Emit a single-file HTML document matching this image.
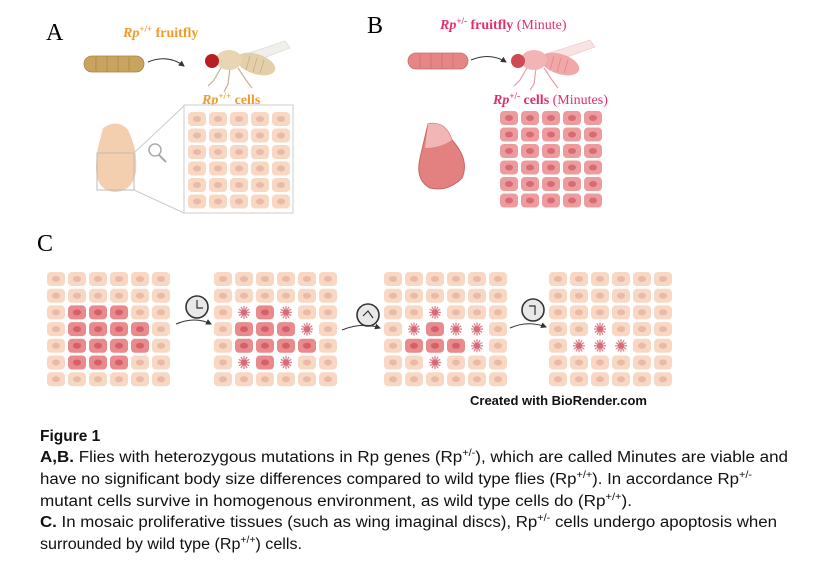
<!DOCTYPE html>
<html><head><meta charset="utf-8"><style>
html,body{margin:0;padding:0;background:#fff;}
svg{display:block;}
.cap{font-family:"Liberation Sans",sans-serif;font-size:15.5px;fill:#111;}
</style></head><body>
<svg id="s" width="827" height="564" viewBox="0 0 827 564" xmlns="http://www.w3.org/2000/svg">
<defs>
<marker id="ah" markerWidth="6" markerHeight="6" refX="5" refY="3" orient="auto"><path d="M0,0 L6,3 L0,6 z" fill="#333"/></marker>
</defs>
<text x="46" y="40" font-family="Liberation Serif,serif" font-size="24">A</text>
<text x="367" y="33" font-family="Liberation Serif,serif" font-size="24">B</text>
<text x="37" y="251" font-family="Liberation Serif,serif" font-size="24">C</text>

<!-- Panel A -->
<text x="123" y="37" font-family="Liberation Serif,serif" font-size="14" font-weight="bold" fill="#ef9a2a"><tspan font-style="italic">Rp</tspan><tspan font-size="9" dy="-5">+/+</tspan><tspan dy="5"> fruitfly</tspan></text>
<rect x="84" y="56" width="60" height="16" rx="8" fill="#c9a461" stroke="#a88440" stroke-width="0.8"/>
<g stroke="#a88440" stroke-width="0.7"><path d="M96,57v14M107,56v16M118,56v16M129,57v14"/></g>
<path d="M148,62 Q168,54 184,66" fill="none" stroke="#333" stroke-width="1" marker-end="url(#ah)"/>
<path d="M240,56 L285,41 L290,48 L248,64 Z" fill="#f1efec" stroke="#d8d4cc" stroke-width="0.6"/>
<g stroke="#c9b28f" stroke-width="1.2" fill="none"><path d="M222,66 L214,80 L208,86 M230,68 L228,84 L224,92 M238,68 L246,80 L252,88"/></g>
<ellipse cx="256" cy="64" rx="20" ry="10" fill="#e4cfab" transform="rotate(18 256 64)"/>
<g stroke="#c9ad82" stroke-width="0.8"><path d="M250,56 l-4,14 M257,58 l-4,14 M264,60 l-4,13"/></g>
<ellipse cx="229" cy="60" rx="13" ry="10" fill="#e8d5b3"/>
<circle cx="212" cy="61" r="7" fill="#b81f25"/>
<text x="202" y="104" font-family="Liberation Serif,serif" font-size="14" font-weight="bold" fill="#ef9a2a"><tspan font-style="italic">Rp</tspan><tspan font-size="9" dy="-5">+/+</tspan><tspan dy="5"> cells</tspan></text>
<path d="M103,128 Q118,118 128,130 Q138,150 136,172 Q132,192 114,192 Q97,190 96,170 Q96,152 100,140 Z" fill="#f3cfb0"/>
<rect x="97" y="153" width="37" height="37" fill="none" stroke="#bbb" stroke-width="1"/>
<path d="M134,153 L184,106 M134,190 L184,213" stroke="#ccc" stroke-width="1"/>
<circle cx="155" cy="150" r="6" fill="none" stroke="#aaa" stroke-width="1.5"/>
<path d="M159,155 L166,162" stroke="#aaa" stroke-width="2"/>
<rect x="184" y="105" width="109" height="108" fill="#fff" stroke="#ccc" stroke-width="1"/>
<g id="gA"></g>

<!-- Panel B -->
<text x="440" y="29" font-family="Liberation Serif,serif" font-size="14" fill="#e0306a"><tspan font-weight="bold" font-style="italic">Rp</tspan><tspan font-weight="bold" font-size="9" dy="-5">+/-</tspan><tspan dy="5" font-weight="bold"> fruitfly</tspan> (Minute)</text>
<rect x="408" y="53" width="60" height="16" rx="8" fill="#e58585" stroke="#d06a6a" stroke-width="0.8"/>
<g stroke="#d06a6a" stroke-width="0.7"><path d="M420,54v14M431,53v16M442,53v16M453,54v14"/></g>
<path d="M471,60 Q490,52 506,62" fill="none" stroke="#333" stroke-width="1" marker-end="url(#ah)"/>
<path d="M546,54 L590,40 L595,47 L553,62 Z" fill="#f8e2e2" stroke="#eec0c0" stroke-width="0.6"/>
<g stroke="#e8a0a0" stroke-width="1.2" fill="none"><path d="M528,66 L520,80 L514,86 M536,68 L534,84 L530,90 M544,68 L552,80 L558,88"/></g>
<ellipse cx="560" cy="64" rx="20" ry="10" fill="#f0a8a8" transform="rotate(18 560 64)"/>
<g stroke="#e08888" stroke-width="0.8"><path d="M554,56 l-4,14 M561,58 l-4,14 M568,60 l-4,13"/></g>
<ellipse cx="534" cy="60" rx="13" ry="10" fill="#f2b4b4"/>
<circle cx="518" cy="61" r="7" fill="#d04a55"/>
<text x="493" y="104" font-family="Liberation Serif,serif" font-size="14" fill="#e0306a"><tspan font-weight="bold" font-style="italic">Rp</tspan><tspan font-weight="bold" font-size="9" dy="-5">+/-</tspan><tspan dy="5" font-weight="bold"> cells</tspan> (Minutes)</text>
<path d="M428,124 Q445,120 452,140 Q470,160 462,178 Q448,192 430,188 Q415,180 420,158 Z" fill="#e38080" stroke="#c86565" stroke-width="1"/>
<path d="M428,124 Q445,120 452,140 Q440,148 425,148 Z" fill="#f2b6b6"/>
<g id="gB"></g>

<!-- Panel C -->
<g id="gC"></g>
<g fill="#e8e8e8" stroke="#333" stroke-width="1.6">
<circle cx="197" cy="307" r="11"/><circle cx="368" cy="315" r="11"/><circle cx="533" cy="310" r="11"/>
</g>
<g stroke="#333" stroke-width="1.2" fill="none">
<path d="M197,300 L197,308 L203,308"/><path d="M363,316 L368,311 L373,318"/><path d="M529,306 L535,306 L535,315"/>
</g>
<g fill="none" stroke="#333" stroke-width="1">
<path d="M176,324 Q195,316 211,324" marker-end="url(#ah)"/>
<path d="M342,330 Q362,322 380,328" marker-end="url(#ah)"/>
<path d="M510,328 Q528,320 546,327" marker-end="url(#ah)"/>
</g>
<text x="470" y="405" font-family="Liberation Sans,sans-serif" font-size="13" font-weight="bold" fill="#111">Created with BioRender.com</text>

<text class="cap" x="40" y="441" font-weight="bold" font-size="16.5">Figure 1</text>
<text class="cap" x="40" y="462" textLength="748" lengthAdjust="spacingAndGlyphs"><tspan font-weight="bold">A,B.</tspan> Flies with heterozygous mutations in Rp genes (Rp<tspan font-size="10" dy="-6">+/-</tspan><tspan dy="6">), which are called Minutes are viable and</tspan></text>
<text class="cap" x="40" y="484" textLength="712" lengthAdjust="spacingAndGlyphs">have no significant body size differences compared to wild type flies (Rp<tspan font-size="10" dy="-6">+/+</tspan><tspan dy="6">). In accordance Rp</tspan><tspan font-size="10" dy="-6">+/-</tspan></text>
<text class="cap" x="40" y="506" textLength="592" lengthAdjust="spacingAndGlyphs">mutant cells survive in homogenous environment, as wild type cells do (Rp<tspan font-size="10" dy="-6">+/+</tspan><tspan dy="6">).</tspan></text>
<text class="cap" x="40" y="527" textLength="737" lengthAdjust="spacingAndGlyphs"><tspan font-weight="bold">C.</tspan> In mosaic proliferative tissues (such as wing imaginal discs), Rp<tspan font-size="10" dy="-6">+/-</tspan><tspan dy="6"> cells undergo apoptosis when</tspan></text>
<text class="cap" x="40" y="549" textLength="262" lengthAdjust="spacingAndGlyphs">surrounded by wild type (Rp<tspan font-size="10" dy="-6">+/+</tspan><tspan dy="6">) cells.</tspan></text>
</svg>
<script>
var NS="http://www.w3.org/2000/svg";
function el(p,t,a){var e=document.createElementNS(NS,t);for(var k in a)e.setAttribute(k,a[k]);p.appendChild(e);return e;}
function cell(g,x,y,w,h,type){
  if(type=='a'){
    var cx=x+w/2,cy=y+h/2;
    for(var i=0;i<12;i++){var an=i*Math.PI/6;el(g,'line',{x1:cx,y1:cy,x2:cx+Math.cos(an)*6,y2:cy+Math.sin(an)*6.5,stroke:'#e08a94','stroke-width':1.4});}
    el(g,'circle',{cx:cx,cy:cy,r:3,fill:'#d86a78'});
    return;
  }
  var f=type=='r'?'#e98a8c':(type=='b'?'#ec9c9c':'#f8d7c3');
  var n=type=='r'?'#d6606a':(type=='b'?'#d86c74':'#e9bba6');
  el(g,'rect',{x:x,y:y,width:w,height:h,rx:4,fill:f});
  el(g,'ellipse',{cx:x+w/2,cy:y+h/2,rx:4,ry:3,fill:n});
}
var gA=document.getElementById('gA');
for(var r=0;r<6;r++)for(var c=0;c<5;c++)cell(gA,188+c*21,112+r*16.5,18,14,'n');
var gB=document.getElementById('gB');
for(var r=0;r<6;r++)for(var c=0;c<5;c++)cell(gB,500+c*21,111+r*16.5,18,14,'b');
var gC=document.getElementById('gC');
var pats=[
 ["nnnnnn","nnnnnn","nrrrnn","nrrrrn","nrrrrn","nrrrnn","nnnnnn"],
 ["nnnnnn","nnnnnn","narann","nrrran","nrrrrn","narann","nnnnnn"],
 ["nnnnnn","nnnnnn","nnannn","naraan","nrrran","nnannn","nnnnnn"],
 ["nnnnnn","nnnnnn","nnnnnn","nnannn","naaann","nnnnnn","nnnnnn"]];
var xs=[47,214,384,549];
for(var g=0;g<4;g++)for(var r=0;r<7;r++)for(var c=0;c<6;c++){
  cell(gC,xs[g]+c*21,272+r*16.7,18,14,pats[g][r][c]);
}
</script>
</body></html>
